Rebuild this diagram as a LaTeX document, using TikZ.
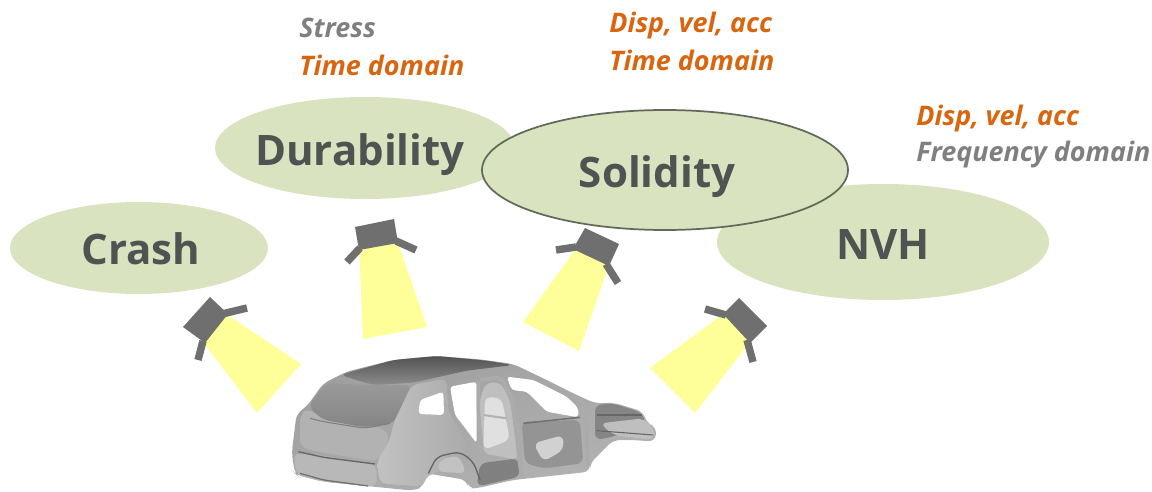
\documentclass[tikz,border=0pt]{standalone}
\usepackage{fontspec}
\setmainfont{Open Sans}
\definecolor{ell}{HTML}{D9E3C0}
\definecolor{ellline}{HTML}{5F6A58}
\definecolor{title}{HTML}{4F5351}
\definecolor{org}{HTML}{D9650F}
\definecolor{gry}{HTML}{7F7F7F}
\definecolor{beam}{HTML}{FFFF99}
\definecolor{cam}{HTML}{6F6F6F}
\tikzset{
  x=0.75pt,y=-0.75pt,
  head/.style={font=\fontsize{31.5}{38}\selectfont\bfseries,text=title,anchor=base,inner sep=0pt},
  info/.style={font=\fontsize{20.2}{24}\selectfont\bfseries\itshape,anchor=base west,inner sep=0pt},
  beamf/.style={fill=beam},
  body/.style={fill=cam},
  arm/.style={draw=cam,line width=5.6pt},
  hole/.style={fill=white,rounded corners=2.5pt},
  soft/.style={rounded corners=5pt},
}
\begin{document}
\begin{tikzpicture}
\useasboundingbox (0,0) rectangle (1152,492);
% ellipses
\fill[ell] (139,248) ellipse [x radius=129,y radius=46];
\fill[ell] (365,148) ellipse [x radius=150,y radius=51];
\fill[ell] (883,242) ellipse [x radius=166,y radius=58];
\filldraw[fill=ell,draw=ellline,line width=1.3pt] (665,170) ellipse [x radius=183,y radius=60];
\node[head] (crash) at (141,264) {Crash};
\node[head] (dur) at (360,165) {Durability};
\node[head] (sol) at (657,187) {Solidity};
\node[head] (nvh) at (883,259) {NVH};
% labels
\node[info,text=gry] (l1) at (299,38) {Stress};
\node[info,text=org] (l2) at (299,75) {Time domain};
\node[info,text=org] (l3) at (609,33) {Disp, vel, acc};
\node[info,text=org] (l4) at (609,70) {Time domain};
\node[info,text=org] (l5) at (916,125) {Disp, vel, acc};
\node[info,text=gry] (l6) at (916,161) {Frequency domain};
% beams
\fill[beamf] (226,314)--(301,364)--(257,413)--(203,342)--cycle;
\fill[beamf] (359,246)--(397,240)--(427,327)--(363,339)--cycle;
\fill[beamf] (575,250)--(609,265)--(579,351)--(523,322)--cycle;
\fill[beamf] (723,314)--(750,342)--(695,413)--(650,368)--cycle;
% cameras
\fill[body] (210,297)--(228,314)--(205,343)--(183,327)--cycle;
\draw[arm] (222,314)--(247,308);
\draw[arm] (203,341)--(198,360);
\fill[body] (355,227)--(394,219)--(398,243)--(359,250)--cycle;
\draw[arm] (360,248)--(347,262);
\draw[arm] (396,241)--(416,250);
\fill[body] (585,228)--(619,244)--(609,266)--(573,249)--cycle;
\draw[arm] (576,247)--(556,250);
\draw[arm] (606,264)--(618,283);
\fill[body] (739,298)--(767,326)--(750,343)--(723,314)--cycle;
\draw[arm] (726,315)--(705,309);
\draw[arm] (747,340)--(753,362);
% car
\begin{scope}[shift={(280,340)},x=0.25pt,y=-0.25pt]
\shade[soft,left color=black!38,right color=black!30,shading angle=20]
 (45,400)--(35,340)--(50,220)--(80,200)--(130,130)--(200,95)--(340,60)--(470,48)--(600,58)--(700,72)--(800,120)--(880,160)--(945,190)--(1000,188)--(1090,215)--(1100,250)--(1130,262)--(1125,305)--(1060,300)--(1000,300)--(930,370)--(930,395)--(700,420)--(590,445)--(565,445)--(560,420)--(440,400)--(430,440)--(400,452)--(280,440)--(130,425)--(50,405)--cycle;
% roof
\shade[soft,top color=black!68,bottom color=black!45]
 (180,105)--(340,60)--(470,48)--(620,62)--(700,75)--(560,92)--(400,128)--(280,135)--cycle;
% tailgate and rear side
\shade[soft,top color=black!40,bottom color=black!48] (85,200)--(135,130)--(280,135)--(395,135)--(340,250)--(250,262)--(130,240)--cycle;
\fill[soft,black!30] (60,225)--(85,205)--(130,240)--(250,262)--(310,262)--(330,300)--(290,365)--(110,335)--(60,320)--cycle;
\shade[soft,left color=black!24,right color=black!34] (340,250)--(395,135)--(500,115)--(505,215)--(520,240)--(560,310)--(590,390)--(560,340)--(510,340)--(470,400)--(440,405)--(430,440)--(300,430)--(290,365)--(330,300)--cycle;
\fill[soft,black!28] (40,340)--(110,345)--(290,375)--(290,440)--(130,425)--(50,405)--cycle;
\draw[black!60,line width=1pt,soft] (55,335)--(130,352)--(285,372);
\draw[black!55,line width=1pt,soft] (60,400)--(130,420)--(265,438);
\draw[black!50,line width=0.8pt,soft] (90,235)--(130,245)--(255,265)--(330,250);
% windows
\fill[hole] (420,180)--(490,155)--(492,225)--(415,222)--cycle;
\fill[hole] (510,140)--(590,125)--(590,310)--(560,270)--(525,225)--cycle;
\fill[hole] (680,110)--(760,120)--(860,170)--(895,205)--(895,232)--(800,215)--(740,155)--(695,150)--cycle;
% cabin interior
\fill[soft,black!25] (615,130)--(660,125)--(690,180)--(715,360)--(610,340)--(595,200)--cycle;
\fill[soft,black!12] (615,170)--(665,175)--(690,300)--(610,330)--cycle;
\fill[soft,black!42] (725,245)--(900,240)--(910,370)--(790,385)--(735,370)--cycle;
\fill[soft,black!18] (760,310)--(850,285)--(850,330)--(790,365)--cycle;
\fill[soft,black!50] (600,370)--(715,355)--(720,410)--(590,440)--cycle;
\draw[black!33,line width=3.2pt,soft] (600,120)--(665,112)--(700,190)--(725,410);
\draw[black!33,line width=2.6pt,soft] (595,125)--(595,215)--(608,350);
\draw[black!33,line width=2.4pt,soft] (895,200)--(922,240)--(922,380);
\draw[black!55,line width=1.2pt] (730,250)--(900,232);
\draw[black!30,line width=1.6pt] (610,225)--(680,235);
% wheel arch and front structure
\draw[black!60,line width=1pt,soft] (445,400)--(470,350)--(540,335)--(580,365)--(600,420);
\fill[soft,black!24] (480,360)--(535,345)--(560,400)--(470,395)--cycle;
\fill[soft,black!48] (945,195)--(1000,190)--(1085,218)--(1098,250)--(1000,290)--(945,300)--cycle;
\fill[soft,black!25] (960,250)--(1090,235)--(1125,268)--(1120,300)--(1000,285)--cycle;
\draw[black!60,line width=0.8pt] (950,225)--(1085,225);
\draw[black!60,line width=0.8pt] (950,272)--(1120,285);
\end{scope}
\end{tikzpicture}
\end{document}
